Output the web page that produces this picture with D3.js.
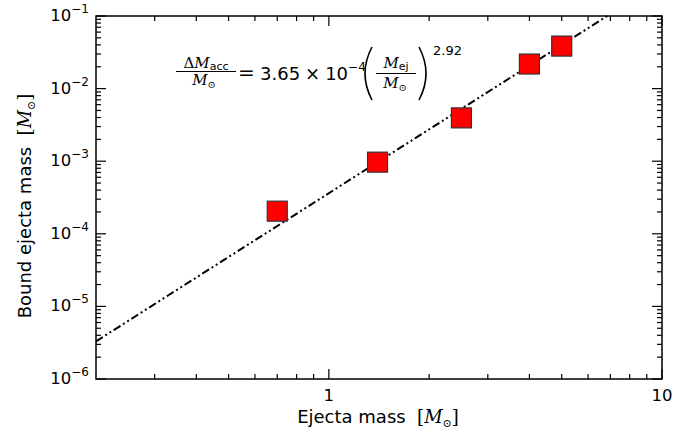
<!DOCTYPE html>
<html><head><meta charset="utf-8">
<script src="https://cdn.jsdelivr.net/npm/d3@7"></script>
<style>body{margin:0;background:#fff}svg{display:block}</style>
</head><body>
<script>
// Data
const ejectaMass = [0.7, 1.4, 2.5, 4.0, 5.0];
const boundMass = [2.05e-4, 9.7e-4, 3.95e-3, 2.18e-2, 3.85e-2];
const fitLineX = [0.2, 6.85];
const fitLineY = [3.3e-6, 0.1];
const xMajorTicks = [1, 10];
const xTickLabels = ["1", "10"];
const yMajorTicks = [1e-6, 1e-5, 1e-4, 1e-3, 1e-2, 1e-1];
const yTickExps = ["−6", "−5", "−4", "−3", "−2", "−1"];

const W = 698, H = 432;
const L = 96, R = 662, T = 16, B = 379;
const sans = "'DejaVu Sans', sans-serif";
const serif = "'DejaVu Serif', 'Liberation Serif', serif";
const NB = "\u00a0";

const svg = d3.select("body").append("svg").attr("width", W).attr("height", H);
const x = d3.scaleLog().domain([0.2, 10]).range([L, R]);
const y = d3.scaleLog().domain([1e-6, 1e-1]).range([B, T]);

// minor ticks
const xMinor = [];
for (let d = 0.1; d < 10; d *= 10) for (let k = 2; k <= 9; k++) { const v = d * k; if (v > 0.2 + 1e-9 && v < 10 - 1e-9 && Math.abs(v-1) > 1e-9) xMinor.push(v); }
const yMinor = [];
for (let d = 1e-6; d < 1e-1; d *= 10) for (let k = 2; k <= 9; k++) yMinor.push(d * k);

const g = svg.append("g");
// fit line
g.append("path")
  .datum(fitLineX.map((v, i) => [v, fitLineY[i]]))
  .attr("d", d3.line().x(d => x(d[0])).y(d => y(d[1])))
  .attr("fill", "none").attr("stroke", "#000").attr("stroke-width", 2)
  .attr("stroke-dasharray", "8,3,2,3,2,3");

// markers
g.selectAll("rect.pt").data(ejectaMass).enter().append("rect")
  .attr("class", "pt")
  .attr("x", (d) => x(d) - 10).attr("y", (d, i) => y(boundMass[i]) - 10)
  .attr("width", 20).attr("height", 20)
  .attr("fill", "#ff0000").attr("stroke", "#333").attr("stroke-width", 1.2);

// ticks
const tk = svg.append("g").attr("stroke", "#000").attr("stroke-width", 1.2);
xMajorTicks.forEach(v => {
  tk.append("line").attr("x1", x(v)).attr("x2", x(v)).attr("y1", B).attr("y2", B - 10);
  tk.append("line").attr("x1", x(v)).attr("x2", x(v)).attr("y1", T).attr("y2", T + 10);
});
xMinor.forEach(v => {
  tk.append("line").attr("x1", x(v)).attr("x2", x(v)).attr("y1", B).attr("y2", B - 5);
  tk.append("line").attr("x1", x(v)).attr("x2", x(v)).attr("y1", T).attr("y2", T + 5);
});
yMajorTicks.forEach(v => {
  tk.append("line").attr("y1", y(v)).attr("y2", y(v)).attr("x1", L).attr("x2", L + 10);
  tk.append("line").attr("y1", y(v)).attr("y2", y(v)).attr("x1", R).attr("x2", R - 10);
});
yMinor.forEach(v => {
  tk.append("line").attr("y1", y(v)).attr("y2", y(v)).attr("x1", L).attr("x2", L + 5);
  tk.append("line").attr("y1", y(v)).attr("y2", y(v)).attr("x1", R).attr("x2", R - 5);
});
svg.append("rect").attr("x", L).attr("y", T).attr("width", R - L).attr("height", B - T)
  .attr("fill", "none").attr("stroke", "#000").attr("stroke-width", 1.5);

// tick labels
xMajorTicks.forEach((v, i) => {
  svg.append("text").attr("x", x(v)).attr("y", 401).attr("text-anchor", "middle")
    .attr("font-family", sans).attr("font-size", 16.5).text(xTickLabels[i]);
});
yMajorTicks.forEach((v, i) => {
  const t = svg.append("text").attr("x", 89).attr("y", y(v) + 5).attr("text-anchor", "end")
    .attr("font-family", sans).attr("font-size", 16.5);
  t.append("tspan").text("10");
  t.append("tspan").attr("dy", -8).attr("font-size", 12).text(yTickExps[i]);
});

// axis labels
const xl = svg.append("text").attr("x", 378).attr("y", 423).attr("text-anchor", "middle")
  .attr("font-family", sans).attr("font-size", 18);
xl.append("tspan").text("Ejecta mass" + NB + NB);
xl.append("tspan").attr("font-family", serif).text("[");
xl.append("tspan").attr("font-family", serif).attr("font-style", "italic").text("M");
xl.append("tspan").attr("font-family", serif).attr("font-size", 11).attr("dy", 4).text("⊙");
xl.append("tspan").attr("font-family", serif).attr("dy", -4).text("]");

const yl = svg.append("text").attr("transform", "translate(31,206) rotate(-90)").attr("text-anchor", "middle")
  .attr("font-family", sans).attr("font-size", 18);
yl.append("tspan").text("Bound ejecta mass" + NB + NB);
yl.append("tspan").attr("font-family", serif).text("[");
yl.append("tspan").attr("font-family", serif).attr("font-style", "italic").text("M");
yl.append("tspan").attr("font-family", serif).attr("font-size", 11).attr("dy", 4).text("⊙");
yl.append("tspan").attr("font-family", serif).attr("dy", -4).text("]");

// annotation
const an = svg.append("g");
// first fraction
const n1 = an.append("text").attr("x", 206).attr("y", 68).attr("text-anchor", "middle").attr("font-size", 15);
n1.append("tspan").attr("font-family", serif).text("Δ");
n1.append("tspan").attr("font-family", serif).attr("font-style", "italic").text("M");
n1.append("tspan").attr("font-family", sans).attr("font-size", 11).attr("dy", 2).text("acc");
an.append("line").attr("x1", 176).attr("x2", 236).attr("y1", 71.5).attr("y2", 71.5).attr("stroke", "#000").attr("stroke-width", 1);
const d1 = an.append("text").attr("x", 204).attr("y", 85).attr("text-anchor", "middle").attr("font-size", 15);
d1.append("tspan").attr("font-family", serif).attr("font-style", "italic").text("M");
d1.append("tspan").attr("font-family", serif).attr("font-size", 10).attr("dy", 3).text("⊙");
// equals and coefficient
an.append("text").attr("x", 238).attr("y", 80).attr("font-family", serif).attr("font-size", 20).text("=");
const c = an.append("text").attr("x", 260).attr("y", 80).attr("font-family", sans).attr("font-size", 18);
c.append("tspan").text("3.65");
c.append("tspan").attr("font-family", serif).attr("dx", 5).text("×");
c.append("tspan").attr("dx", 5).text("10");
c.append("tspan").attr("font-size", 12).attr("dy", -9).text("−4");
// parentheses drawn as curves
const lp = d3.path(); lp.moveTo(372, 47); lp.quadraticCurveTo(358, 73.5, 372, 100);
const rp = d3.path(); rp.moveTo(419, 47); rp.quadraticCurveTo(433, 73.5, 419, 100);
[lp, rp].forEach(p => an.append("path").attr("d", p.toString()).attr("fill", "none")
  .attr("stroke", "#000").attr("stroke-width", 1.6));
const n2 = an.append("text").attr("x", 396).attr("y", 68).attr("text-anchor", "middle").attr("font-size", 15);
n2.append("tspan").attr("font-family", serif).attr("font-style", "italic").text("M");
n2.append("tspan").attr("font-family", sans).attr("font-size", 11).attr("dy", 2).text("ej");
an.append("line").attr("x1", 376).attr("x2", 416).attr("y1", 73.5).attr("y2", 73.5).attr("stroke", "#000").attr("stroke-width", 1);
const d2 = an.append("text").attr("x", 395).attr("y", 88).attr("text-anchor", "middle").attr("font-size", 15);
d2.append("tspan").attr("font-family", serif).attr("font-style", "italic").text("M");
d2.append("tspan").attr("font-family", serif).attr("font-size", 10).attr("dy", 3).text("⊙");
an.append("text").attr("x", 433).attr("y", 55).attr("font-family", sans).attr("font-size", 13).text("2.92");
</script>
</body></html>
